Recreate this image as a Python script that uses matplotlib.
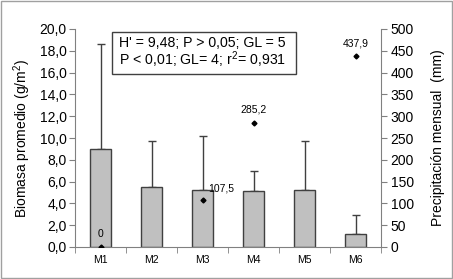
import matplotlib
matplotlib.use("Agg")
import matplotlib.pyplot as plt
import numpy as np

plt.rcParams['font.family'] = ['Liberation Sans', 'DejaVu Sans']
plt.rcParams['mathtext.fontset'] = 'custom'
plt.rcParams['mathtext.rm'] = 'Liberation Sans'
plt.rcParams['mathtext.it'] = 'Liberation Sans'

# data
meses = ["M1", "M2", "M3", "M4", "M5", "M6"]
biomasa = [9.0, 5.5, 5.2, 5.1, 5.2, 1.2]
err_sup = [9.6, 4.2, 5.0, 1.9, 4.5, 1.7]
precip_idx = [0, 2, 3, 5]
precip = [0, 107.5, 285.2, 437.9]
precip_lbl = ["0", "107,5", "285,2", "437,9"]

fig = plt.figure(figsize=(4.53, 2.79), dpi=100)
ax = fig.add_axes([75 / 453, 1 - 247 / 279, (381 - 75) / 453, (247 - 29) / 279])
x = np.arange(len(meses))

ax.bar(x, biomasa, width=0.42, color='#c0c0c0', edgecolor='#404040', linewidth=1.0, zorder=2)
ax.errorbar(x, biomasa, yerr=[np.zeros(len(x)), err_sup], fmt='none', ecolor='#404040',
            elinewidth=1.0, capsize=3, capthick=1.0, zorder=1)

ax.set_xlim(-0.5, len(meses) - 0.5)
ax.set_ylim(0, 20)
ax.set_yticks(np.arange(0, 20.1, 2))
ax.set_yticklabels([f"{v:.1f}".replace('.', ',') for v in np.arange(0, 20.1, 2)], fontsize=10)
ax.set_ylabel("Biomasa promedio (g/m$^2$)", fontsize=10, labelpad=5)
ax.set_xticks(x)
ax.set_xticklabels(meses, fontsize=7.5)
ax.tick_params(axis='x', length=0, pad=6)
ax.set_xticks(np.arange(-0.5, len(meses), 1), minor=True)
ax.tick_params(axis='x', which='minor', length=4, color='#808080')
ax.tick_params(axis='y', length=4, color='#808080', pad=2)
for s in ['top', 'right']:
    ax.spines[s].set_visible(False)
ax.spines['left'].set_color('#808080')
ax.spines['bottom'].set_color('#808080')

ax2 = ax.twinx()
ax2.set_ylim(0, 500)
ax2.set_yticks(np.arange(0, 501, 50))
ax2.tick_params(axis='y', labelsize=10, length=4, color='#808080', pad=3)
ax2.set_ylabel("Precipitación mensual  (mm)", fontsize=10, labelpad=12)
for s in ['top', 'left', 'bottom']:
    ax2.spines[s].set_visible(False)
ax2.spines['right'].set_color('#808080')
ax2.plot(x[precip_idx], precip, 'D', color='black', markersize=2.5, zorder=5)
for i, v, t in zip(precip_idx, precip, precip_lbl):
    if t == "107,5":
        ax2.annotate(t, (i, v), xytext=(4, 6), textcoords='offset points', fontsize=7.5)
    else:
        ax2.annotate(t, (i, v), xytext=(0, 7), textcoords='offset points', fontsize=7.5, ha='center')

# stats box
fig.patches.append(plt.Rectangle((112 / 453, 1 - 74 / 279), (296 - 112) / 453, 42 / 279,
                                 transform=fig.transFigure, facecolor='white',
                                 edgecolor='#404040', linewidth=1.0, zorder=10))
fig.text(119 / 453, 1 - 53 / 279, "H' = 9,48; P > 0,05; GL = 5\nP < 0,01; GL= 4; r$^2$= 0,931",
         fontsize=10.2, va='center', ha='left', linespacing=1.0, zorder=11)

fig.patches.append(plt.Rectangle((0.002, 0.004), 0.995, 0.993, transform=fig.transFigure,
                                 fill=False, edgecolor='#a0a0a0', linewidth=1.0))
fig.savefig("out.png", dpi=100)
